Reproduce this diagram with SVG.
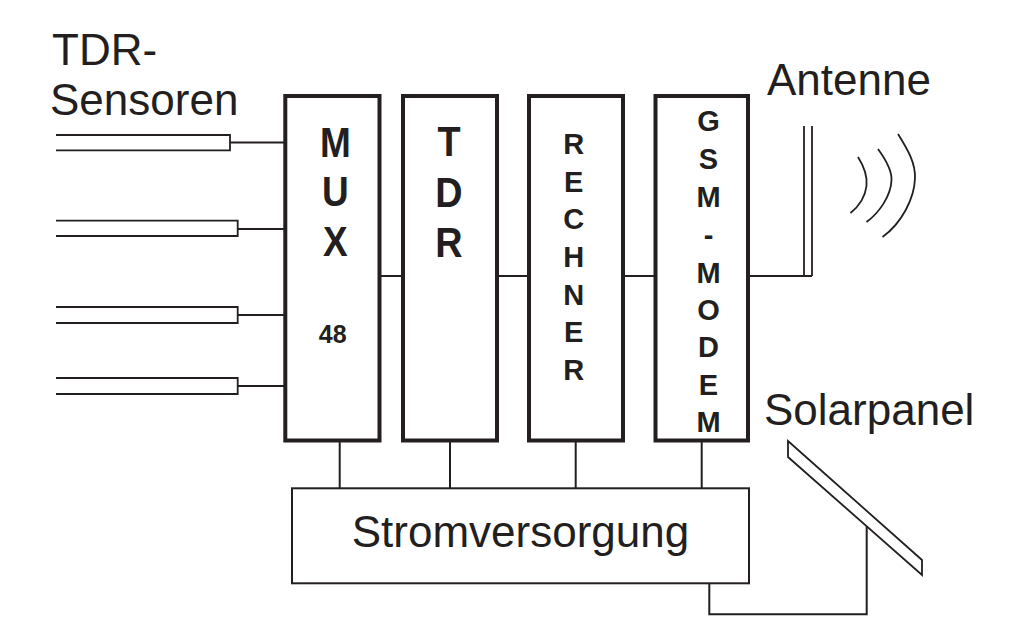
<svg xmlns="http://www.w3.org/2000/svg" width="1018" height="631" viewBox="0 0 1018 631">
  <style>
    .box { fill: #fff; stroke: #231f20; stroke-width: 4; }
    .psu { fill: #fff; stroke: #231f20; stroke-width: 2; }
    .wire { fill: none; stroke: #231f20; stroke-width: 2; }
    .thin { fill: none; stroke: #231f20; stroke-width: 1.8; }
    .lbl { font-family: "Liberation Sans", Arial, sans-serif; font-size: 44px; fill: #231f20; }
    .big { font-family: "Liberation Sans", Arial, sans-serif; font-weight: bold; font-size: 42px; fill: #231f20; text-anchor: middle; }
    .mid { font-family: "Liberation Sans", Arial, sans-serif; font-weight: bold; font-size: 29px; fill: #231f20; text-anchor: middle; }
  </style>

  <!-- labels -->
  <text class="lbl" x="52" y="65">TDR-</text>
  <text class="lbl" x="50" y="115">Sensoren</text>
  <text class="lbl" x="767" y="95">Antenne</text>
  <text class="lbl" x="764" y="425">Solarpanel</text>

  <!-- sensor probes -->
  <g id="sensors" class="thin">
    <path d="M56,135 H230 V150.3 H56"/>
    <path d="M56,220.7 H237.7 V236 H56"/>
    <path d="M56,307 H237.7 V323 H56"/>
    <path d="M56,378 H237.7 V394 H56"/>
  </g>

  <!-- connectors -->
  <g id="connectors" class="wire">
    <path d="M230,142.5 H286"/>
    <path d="M237.7,229 H286"/>
    <path d="M237.7,315 H286"/>
    <path d="M237.7,386 H286"/>
    <path d="M379,276 H403"/>
    <path d="M497,276 H529"/>
    <path d="M623,276 H655"/>
    <path d="M748,276 H812"/>
    <path d="M339.7,440 V488"/>
    <path d="M450,440 V488"/>
    <path d="M575.7,440 V488"/>
    <path d="M701.7,440 V488"/>
    <path d="M709.3,583 V614.3 H866.7 V526.5"/>
  </g>

  <!-- multiplexer -->
  <g id="mux">
    <rect class="box" x="285.3" y="96" width="94.2" height="344.5"/>
    <g transform="translate(335.3,0) scale(0.88,1)">
      <text class="big" x="0" y="157">M</text>
      <text class="big" x="0" y="206">U</text>
      <text class="big" x="0" y="256.5">X</text>
    </g>
    <text class="big" x="332.7" y="343" style="font-size:25px">48</text>
  </g>

  <!-- TDR unit -->
  <g id="tdr">
    <rect class="box" x="403" y="96" width="94" height="344.5"/>
    <g transform="translate(449,0) scale(0.9,1)">
      <text class="big" x="0" y="156">T</text>
      <text class="big" x="0" y="207">D</text>
      <text class="big" x="0" y="257">R</text>
    </g>
  </g>

  <!-- computer -->
  <g id="rechner">
    <rect class="box" x="529" y="96" width="94" height="344.5"/>
    <text class="mid" x="573.7" y="154">R</text>
    <text class="mid" x="573.7" y="191.7">E</text>
    <text class="mid" x="573.7" y="229.3">C</text>
    <text class="mid" x="573.7" y="267">H</text>
    <text class="mid" x="573.7" y="304.6">N</text>
    <text class="mid" x="573.7" y="342.2">E</text>
    <text class="mid" x="573.7" y="380">R</text>
  </g>

  <!-- GSM modem -->
  <g id="gsm-modem">
    <rect class="box" x="655.5" y="96" width="92.5" height="344.5"/>
    <text class="mid" x="708.5" y="131">G</text>
    <text class="mid" x="708.5" y="169">S</text>
    <text class="mid" x="708.5" y="207">M</text>
    <text class="mid" x="708.5" y="245">-</text>
    <text class="mid" x="708.5" y="283.3">M</text>
    <text class="mid" x="708.5" y="320">O</text>
    <text class="mid" x="708.5" y="357">D</text>
    <text class="mid" x="708.5" y="395">E</text>
    <text class="mid" x="708.5" y="432">M</text>
  </g>

  <!-- antenna with radio waves -->
  <g id="antenna" class="thin">
    <path d="M804,126 V276"/>
    <path d="M812,126 V276"/>
    <path d="M858,157 C865,168 867.5,177 866.5,186 C865,198 858,207 850.5,213"/>
    <path d="M878,149 C886,160 892,170 891.5,180 C891,196 879,213 866.5,222"/>
    <path d="M898,134 C908,150 915.5,163 915,178 C914.5,198 902,223 882.5,237"/>
  </g>

  <!-- power supply -->
  <g id="stromversorgung">
    <rect class="psu" x="292" y="488.3" width="457" height="95"/>
    <text class="lbl" x="520.5" y="547.3" text-anchor="middle">Stromversorgung</text>
  </g>

  <!-- solar panel -->
  <g id="solarpanel">
    <polygon class="thin" points="788,441 922,560 922,575 788,457" style="fill:#fff"/>
  </g>
</svg>
